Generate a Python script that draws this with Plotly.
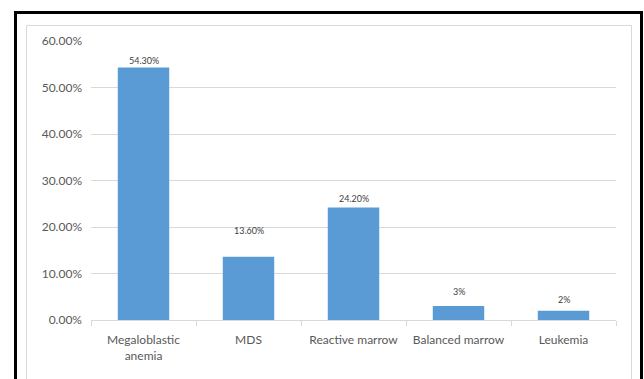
import plotly.graph_objects as go

# Bone marrow findings, share of cases (%)
categories = ["Megaloblastic<br>anemia", "MDS", "Reactive marrow", "Balanced marrow", "Leukemia"]
percentages = [54.3, 13.6, 24.2, 3, 2]
value_labels = ["54.30%", "13.60%", "24.20%", "3%", "2%"]
y_ticks = [0, 10, 20, 30, 40, 50, 60]
y_tick_labels = ["0.00%", "10.00%", "20.00%", "30.00%", "40.00%", "50.00%", "60.00%"]

W, H = 644, 379
L, R, T, B = 91, 28, 41, 59
PW, PH = W - L - R, H - T - B

FONT = "Lato"
GRID = "#D9D9D9"
TEXT = "#595959"


def px_x(x):
    return (x - L) / PW


def px_y(y):
    return (H - B - y) / PH


fig = go.Figure(
    go.Bar(
        x=categories,
        y=percentages,
        marker=dict(color="#5B9BD5", line=dict(width=0)),
        hoverinfo="skip",
    )
)

# value labels above each bar (individual vertical offsets)
label_shift = [0, 19, 1, 7, 4]
for cat, val, txt, dy in zip(categories, percentages, value_labels, label_shift):
    fig.add_annotation(
        x=cat, y=val, text=txt, showarrow=False,
        yanchor="bottom", yshift=dy,
        font=dict(family=FONT, size=9, color="#404040"),
    )

# outer black frame and inner light-grey chart border
fig.add_shape(type="rect", xref="paper", yref="paper",
              x0=px_x(15.5), x1=px_x(641.5), y0=px_y(400), y1=px_y(12.5),
              line=dict(color="black", width=3), fillcolor="rgba(0,0,0,0)")
fig.add_shape(type="rect", xref="paper", yref="paper",
              x0=px_x(26.5), x1=px_x(631.5), y0=px_y(400), y1=px_y(25.5),
              line=dict(color=GRID, width=1), fillcolor="rgba(0,0,0,0)")

fig.update_layout(
    width=W, height=H,
    margin=dict(l=L, r=R, t=T, b=B),
    paper_bgcolor="white", plot_bgcolor="white",
    bargap=0.51,
    showlegend=False,
    font=dict(family=FONT, color=TEXT),
)
fig.update_xaxes(
    showline=True, linecolor=GRID, linewidth=1,
    ticks="outside", tickson="boundaries", ticklen=5, tickcolor=GRID,
    ticklabelstandoff=9,
    tickfont=dict(family=FONT, size=12, color=TEXT),
    showgrid=False,
)
fig.update_yaxes(
    range=[0, 60], tickvals=y_ticks, ticktext=y_tick_labels,
    showgrid=True, gridcolor=GRID, gridwidth=1,
    zeroline=False, showline=False, ticks="",
    ticklabelstandoff=8,
    tickfont=dict(family=FONT, size=12, color=TEXT),
)

fig.write_html("out.html")
